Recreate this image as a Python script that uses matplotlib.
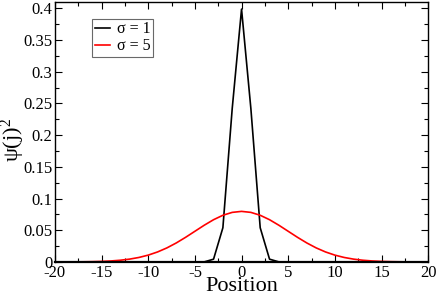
import matplotlib
matplotlib.use("Agg")
import matplotlib.pyplot as plt
from matplotlib.ticker import MultipleLocator

positions = list(range(-20, 21))
# sigma = 1 values (symmetric)
half1 = [0.3989, 0.2420, 0.0540, 0.0044, 0.0001, 0.0, 0.0, 0.0, 0.0, 0.0, 0.0,
         0.0, 0.0, 0.0, 0.0, 0.0, 0.0, 0.0, 0.0, 0.0, 0.0]
half5 = [0.07979, 0.07821, 0.07366, 0.06665, 0.05794, 0.04839, 0.03884, 0.02995,
         0.02218, 0.01579, 0.01080, 0.00709, 0.00448, 0.00272, 0.00158, 0.00089,
         0.00048, 0.00025, 0.00012, 0.00006, 0.00003]
sigma1 = half1[:0:-1] + half1
sigma5 = half5[:0:-1] + half5
labels = ["σ = 1", "σ = 5"]
xticks = [-20, -15, -10, -5, 0, 5, 10, 15, 20]
yticks = [0, 0.05, 0.1, 0.15, 0.2, 0.25, 0.3, 0.35, 0.4]
yticklabels = ['0', '0.05', '0.1', '0.15', '0.2', '0.25', '0.3', '0.35', '0.4']

plt.rcParams['font.family'] = ['Liberation Serif', 'DejaVu Serif']
plt.rcParams['mathtext.fontset'] = 'custom'
plt.rcParams['mathtext.rm'] = 'Liberation Serif'
plt.rcParams['mathtext.it'] = 'Liberation Serif:italic'

fig = plt.figure(figsize=(4.36, 2.95), dpi=100)
ax = fig.add_axes([0.126, 0.112, 0.856, 0.881])
ax.plot(positions, sigma1, color='black', lw=1.2, label=labels[0])
ax.plot(positions, sigma5, color='red', lw=1.2, label=labels[1])
ax.set_xlim(-20, 20)
ax.set_ylim(0, 0.41)
ax.set_xticks(xticks)
ax.set_xticklabels([str(v) for v in xticks])
ax.set_yticks(yticks)
ax.set_yticklabels(yticklabels)
ax.xaxis.set_minor_locator(MultipleLocator(2.5))
ax.yaxis.set_minor_locator(MultipleLocator(0.025))
ax.tick_params(which='both', direction='in', top=True, right=True, labelsize=12, width=0.8, pad=2)
ax.tick_params(which='major', length=5)
ax.tick_params(which='minor', length=3)
for s in ax.spines.values():
    s.set_linewidth(1.0)
ax.spines['bottom'].set_linewidth(1.6)
ax.set_xlabel('Position', fontsize=16, labelpad=-3)
ax.set_ylabel('ψ(j)$^2$', fontsize=16)
ax.yaxis.set_label_coords(-0.075, 0.47)
leg = ax.legend(loc='upper left', bbox_to_anchor=(0.10, 0.935), fontsize=11.5, frameon=True,
                fancybox=False, edgecolor='#444444', handlelength=0.95, handletextpad=0.45,
                borderpad=0.15, labelspacing=0.05, borderaxespad=0)
leg.get_frame().set_linewidth(0.8)
fig.savefig('out.png', dpi=100)
